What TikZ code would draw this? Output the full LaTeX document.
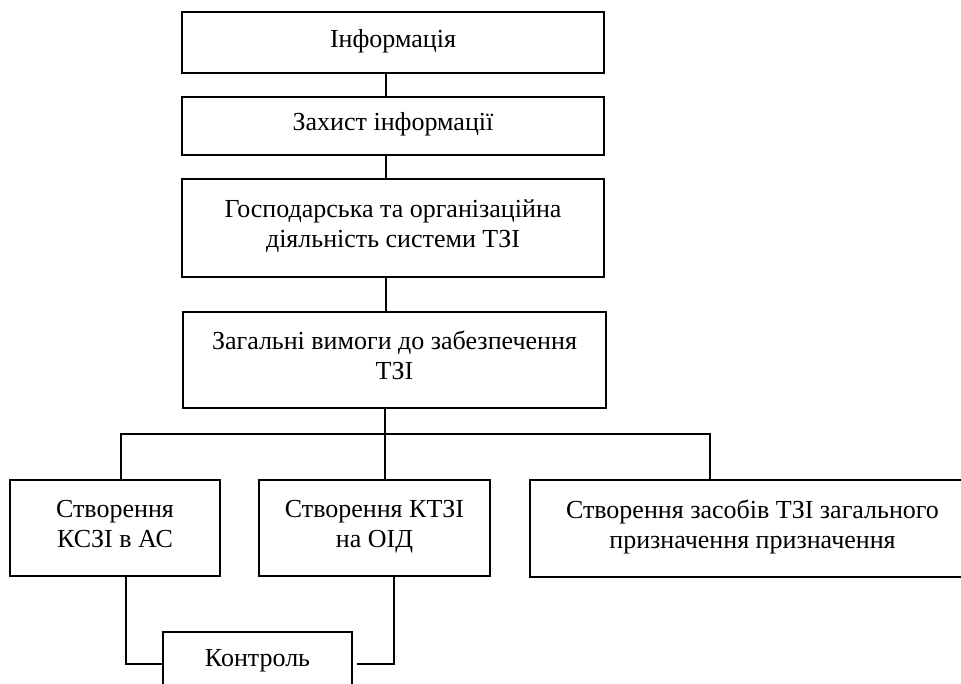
\documentclass[tikz,border=0pt]{standalone}
\usepackage{fontspec}
\setmainfont{Liberation Serif}
\newcommand\topstr{\rule{0pt}{15.5pt}}
\newcommand\botstr{\rule[-9pt]{0pt}{9pt}}
\begin{document}
\begin{tikzpicture}[x=1pt,y=-1pt,
  box/.style={draw=black, line width=1.4pt, inner sep=0pt, align=center,
    font=\fontsize{26}{30}\selectfont},
  conn/.style={draw=black, line width=1.4pt}]
\useasboundingbox (0,0) rectangle (961,684);
\clip (0,0) rectangle (961,684);
\node[box, minimum width=422pt, minimum height=61pt] (info) at (393,42.5) {\topstr Інформація\botstr};
\node[box, minimum width=422pt, minimum height=58pt] (zah) at (393,126) {\topstr Захист інформації\botstr};
\node[box, minimum width=422pt, minimum height=98pt] (gosp) at (393,228) {\topstr Господарська та організаційна\\діяльність системи ТЗІ\botstr};
\node[box, minimum width=423pt, minimum height=96pt] (zag) at (394.5,360) {\topstr Загальні вимоги до забезпечення\\ТЗІ\botstr};
\node[box, minimum width=210pt, minimum height=96pt] (k1) at (115,528) {\topstr Створення\\КСЗІ в АС\botstr};
\node[box, minimum width=231pt, minimum height=96pt] (k2) at (374.5,528) {\topstr Створення КТЗІ\\на ОІД\botstr};
\node[box, minimum width=445pt, minimum height=97pt] (k3) at (752.5,528.5) {\topstr Створення засобів ТЗІ загального\\призначення призначення\botstr};
\node[box, minimum width=189pt, minimum height=60pt] (kon) at (257.5,662) {\topstr Контроль\botstr};
\coordinate (bus) at (385,434);
\draw[conn] (386,0 |- info.south) -- (386,0 |- zah.north);
\draw[conn] (386,0 |- zah.south) -- (386,0 |- gosp.north);
\draw[conn] (386,0 |- gosp.south) -- (386,0 |- zag.north);
\draw[conn] (385,0 |- zag.south) -- (bus);
\draw[conn] (121,0 |- k1.north) -- (121,434) -- (710,434) -- (710,0 |- k3.north);
\draw[conn] (bus) -- (385,0 |- k2.north);
\draw[conn] (126,0 |- k1.south) -- (126,664) -- (kon.west |- 0,664);
\draw[conn] (394,0 |- k2.south) -- (394,664) -- ([xshift=4pt]kon.east |- 0,664);
\end{tikzpicture}
\end{document}
